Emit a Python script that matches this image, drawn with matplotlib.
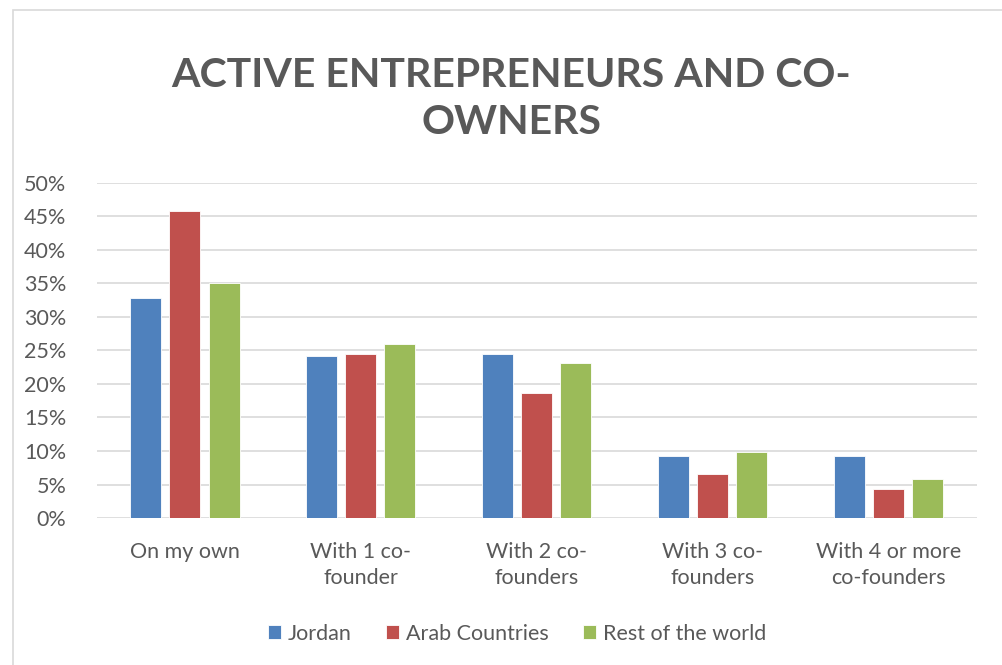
import numpy as np
import matplotlib
matplotlib.use("Agg")
import matplotlib.pyplot as plt
from matplotlib.patches import Rectangle

plt.rcParams['font.family'] = ['Lato', 'DejaVu Sans']

categories = ["On my own", "With 1 co-\nfounder", "With 2 co-\nfounders",
              "With 3 co-\nfounders", "With 4 or more\nco-founders"]
series = ["Jordan", "Arab Countries", "Rest of the world"]
jordan = [32.8, 24.1, 24.4, 9.2, 9.2]
arab = [45.8, 24.5, 18.6, 6.6, 4.4]
rest = [35.1, 25.9, 23.2, 9.8, 5.8]
colors = ["#4F81BD", "#C0504D", "#9BBB59"]
yticks = [0, 5, 10, 15, 20, 25, 30, 35, 40, 45, 50]
title_lines = ["ACTIVE ENTREPRENEURS AND CO-", "OWNERS"]

txt = "#595959"
fs = 15.5
fig = plt.figure(figsize=(10.02, 6.65), dpi=100)
fig.patches.append(Rectangle((0.013, -0.01), 1.0, 0.995, transform=fig.transFigure,
                             fill=False, edgecolor="#D9D9D9", linewidth=1.2))
ax = fig.add_axes([0.0968, 0.221, 0.878, 0.504])

x = np.arange(len(categories))
for j, (vals, name) in enumerate(zip([jordan, arab, rest], series)):
    ax.bar(x + (j - 1) * 0.222, vals, width=0.176, color=colors[j],
           edgecolor="white", linewidth=0.6, label=name, zorder=3)

ax.set_xlim(-0.5, len(categories) - 0.5)
ax.set_ylim(0, 50)
ax.set_yticks(yticks)
ax.set_yticklabels([f"{v}%" for v in yticks], fontsize=fs, color=txt)
ax.set_xticks(x)
ax.set_xticklabels(categories, fontsize=fs, color=txt, linespacing=1.42)
ax.tick_params(axis='both', length=0)
ax.tick_params(axis='x', pad=17)
ax.tick_params(axis='y', pad=22)
ax.grid(axis='y', color="#D9D9D9", linewidth=1.2, zorder=0)
for s in ax.spines.values():
    s.set_visible(False)

# titulo en dos lineas separadas
for ty, line in zip([0.887, 0.8165], title_lines):
    fig.text(0.51, ty, line, ha='center', va='center',
             fontsize=29.5, fontweight='bold', color=txt)

fig.legend(loc='center', bbox_to_anchor=(0.516, 0.047), ncol=3, frameon=False,
           fontsize=fs, labelcolor=txt, handlelength=0.62, handleheight=0.62,
           handletextpad=0.3, columnspacing=1.6)

fig.savefig("out.png", dpi=100)
